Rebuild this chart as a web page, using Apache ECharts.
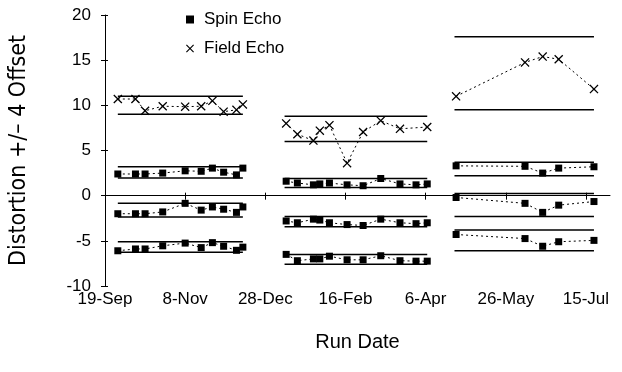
<!DOCTYPE html>
<html>
<head>
<meta charset="utf-8">
<script src="https://cdn.jsdelivr.net/npm/echarts@6/dist/echarts.min.js"></script>
<style>
  html, body {margin: 0; padding: 0; background: #fff;}
  #chart {width: 622px; height: 372px;}
</style>
</head>
<body>
<div id="chart"></div>
<script>
// x is days after 19-Sep, ticks every 50 days
const tickDays = [0, 50, 100, 150, 200, 250, 300];
const tickLabels = ['19-Sep', '8-Nov', '28-Dec', '16-Feb', '6-Apr', '26-May', '15-Jul'];

// run 1 (Sep - Dec)
const g1Days = [8, 19, 25, 36, 50, 60, 67, 74, 82, 86];
const g1Field = [10.7, 10.7, 9.4, 9.9, 9.85, 9.9, 10.5, 9.3, 9.5, 10.1];
const g1SpinA = [2.4, 2.4, 2.4, 2.5, 2.75, 2.7, 3.05, 2.6, 2.3, 3.05];
const g1SpinB = [-2.0, -2.0, -2.0, -1.8, -0.85, -1.6, -1.25, -1.5, -1.85, -1.25];
const g1SpinC = [-6.1, -5.9, -5.9, -5.55, -5.25, -5.75, -5.2, -5.6, -6.05, -5.7];

// run 2 (Jan - Apr)
const g2Days = [113, 120, 130, 134, 140, 151, 161, 172, 184, 194, 201];
const g2Field = [8.0, 6.8, 6.1, 7.2, 7.8, 3.6, 7.05, 8.3, 7.4, null, 7.6];
const g2SpinA = [1.6, 1.4, 1.2, 1.3, 1.4, 1.2, 1.1, 1.9, 1.3, 1.2, 1.3];
const g2SpinB = [-2.8, -3.0, -2.6, -2.7, -3.0, -3.2, -3.3, -2.6, -3.0, -3.1, -3.0];
const g2SpinC = [-6.5, -7.2, -7.0, -7.0, -6.7, -7.1, -7.1, -6.65, -7.2, -7.25, -7.25];

// run 3 (Apr - Jul)
const g3Days = [219, 262, 273, 283, 305];
const g3Field = [11.0, 14.75, 15.4, 15.1, 11.8];
const g3SpinA = [3.3, 3.25, 2.5, 3.05, 3.2];
const g3SpinB = [-0.2, -0.85, -1.85, -1.05, -0.65];
const g3SpinC = [-4.3, -4.75, -5.6, -5.1, -4.95];

// limit lines: span of each run and its levels
const groupSpans = [[8, 86], [112, 201], [218, 305]];
const limitLevels = [
  [11.0, 9.0, 3.2, 1.95, -0.85, -2.35, -5.1, -6.25],
  [8.8, 6.0, 1.9, 0.9, -2.3, -3.45, -6.5, -7.6],
  [17.6, 9.5, 3.7, 2.2, 0.25, -2.3, -3.8, -6.1]
];

const xPath = 'path://M1,0L5,4L9,0L10,1L6,5L10,9L9,10L5,6L1,10L0,9L4,5L0,1Z';
const sqPath = 'path://M0,0L10,0L10,10L0,10Z';

function pairs(days, vals) {
  const out = [];
  days.forEach((d, i) => { if (vals[i] != null) out.push([d, vals[i]]); });
  return out;
}
function joinRuns(list) {
  let out = [];
  list.forEach(p => {
    if (out.length) out.push([p[0][0], '-']);
    out = out.concat(p);
  });
  return out;
}

const spinData = joinRuns([
  pairs(g1Days, g1SpinA), pairs(g1Days, g1SpinB), pairs(g1Days, g1SpinC),
  pairs(g2Days, g2SpinA), pairs(g2Days, g2SpinB), pairs(g2Days, g2SpinC),
  pairs(g3Days, g3SpinA), pairs(g3Days, g3SpinB), pairs(g3Days, g3SpinC)
]);
const fieldData = joinRuns([
  pairs(g1Days, g1Field), pairs(g2Days, g2Field), pairs(g3Days, g3Field)
]);
const limitSegs = [];
groupSpans.forEach((s, g) => {
  limitLevels[g].forEach(v => limitSegs.push([[s[0], v], [s[1], v]]));
});
const limitData = joinRuns(limitSegs);

const font = "'Liberation Sans', Arial, sans-serif";
const narrow = "'Liberation Sans Narrow', 'DejaVu Sans Condensed', sans-serif";

var myChart = echarts.init(document.getElementById('chart'));
myChart.setOption({
  animation: false,
  backgroundColor: '#fff',
  textStyle: {fontFamily: font, color: '#000'},
  grid: {left: 95, right: 12, top: 15, bottom: 86},
  legend: {
    orient: 'vertical',
    left: 181,
    top: 6,
    itemWidth: 18,
    itemHeight: 8,
    itemGap: 12,
    textStyle: {fontSize: 17, color: '#000', fontFamily: font},
    data: [{name: 'Spin Echo', icon: sqPath}, {name: 'Field Echo', icon: xPath}]
  },
  xAxis: [{
    type: 'value',
    min: 0,
    max: 315,
    name: 'Run Date',
    nameLocation: 'middle',
    nameGap: 46,
    nameTextStyle: {fontSize: 20, color: '#000', fontFamily: font},
    axisLine: {lineStyle: {color: '#000', width: 1}},
    axisTick: {customValues: tickDays, length: 4, lineStyle: {color: '#000'}},
    axisLabel: {
      customValues: tickDays,
      formatter: v => tickLabels[tickDays.indexOf(v)],
      fontSize: 17, color: '#000', margin: 5, fontFamily: font
    },
    splitLine: {show: false}
  }, {
    type: 'value',
    min: 0,
    max: 315,
    position: 'bottom',
    axisLine: {show: false},
    axisTick: {inside: true, customValues: tickDays, length: 3, lineStyle: {color: '#000'}},
    axisLabel: {show: false},
    splitLine: {show: false}
  }],
  yAxis: [{
    type: 'value',
    min: -10,
    max: 20,
    interval: 5,
    name: 'Distortion +/\u2013 4 Offset',
    nameLocation: 'middle',
    nameGap: 74,
    nameTextStyle: {fontSize: 23, color: '#000', fontFamily: narrow, padding: [0, 0, 0, 0]},
    axisLine: {show: true, lineStyle: {color: '#000', width: 1}},
    axisTick: {show: true, length: 4, lineStyle: {color: '#000'}},
    axisLabel: {fontSize: 17, color: '#000', margin: 14, fontFamily: font},
    splitLine: {show: false}
  }, {
    type: 'value',
    min: -10,
    max: 20,
    interval: 5,
    position: 'left',
    axisLine: {show: false},
    axisTick: {show: true, inside: true, length: 3, lineStyle: {color: '#000'}},
    axisLabel: {show: false},
    splitLine: {show: false}
  }],
  series: [{
    name: 'limits',
    type: 'line',
    symbol: 'none',
    silent: true,
    data: limitData,
    lineStyle: {color: '#000', width: 1.5}
  }, {
    name: 'Spin Echo',
    type: 'line',
    symbol: 'rect',
    symbolSize: 7,
    data: spinData,
    itemStyle: {color: '#000'},
    lineStyle: {color: '#000', width: 1, type: [2, 3]}
  }, {
    name: 'Field Echo',
    type: 'line',
    symbol: xPath,
    symbolSize: 9,
    data: fieldData,
    itemStyle: {color: '#000'},
    lineStyle: {color: '#000', width: 1, type: [2, 3]}
  }]
});
</script>
</body>
</html>
